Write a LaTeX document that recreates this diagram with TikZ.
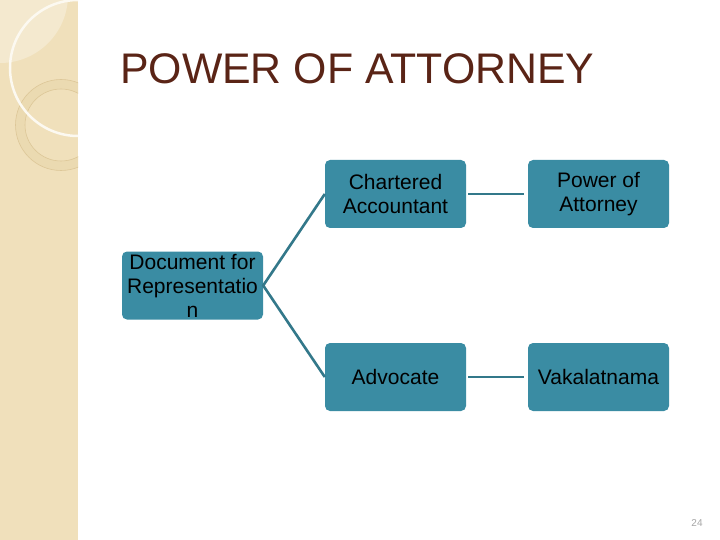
\documentclass[tikz,border=0pt]{standalone}
\usepackage{fontspec}
\setmainfont{Liberation Sans}
\definecolor{teal}{HTML}{3A8CA3}
\definecolor{tealline}{HTML}{33788A}
\definecolor{titlebrown}{HTML}{5A2416}
\definecolor{strip}{HTML}{F0E0BB}
\definecolor{stripring}{HTML}{D6BF8C}
\tikzset{
  box/.style={fill=teal, rounded corners=5pt, minimum width=141pt, minimum height=68pt,
    inner sep=1pt, align=center, font=\fontsize{21}{24}\selectfont},
  link/.style={draw=tealline, line width=2.6pt}
}
\begin{document}
\begin{tikzpicture}[x=1pt,y=-1pt]
\useasboundingbox (0,0) rectangle (720,540);
\fill[white] (0,0) rectangle (720,540);
% side strip
\begin{scope}
\clip (0,0) rectangle (78,540);
\fill[strip] (0,0) rectangle (78,540);
\fill[white,opacity=0.3] (0,-5) circle (68);
\fill[stripring!20!strip,even odd rule] (61,125) circle (45.5) (61,125) circle (36);
\draw[stripring!75!strip,line width=0.6pt] (61,125) circle (45.5);
\draw[stripring!75!strip,line width=0.6pt] (61,125) circle (36);
\draw[white!80!strip,line width=2.5pt] (78,68) circle (68);
\end{scope}
\node at (120,84) [anchor=base west, text=titlebrown, font=\fontsize{42.8}{48}\selectfont, inner sep=0pt] (title) {POWER OF ATTORNEY};
\node at (192.5,285.5) [box] (doc) {Document for\\Representatio\\n};
\node at (395.5,194) [box] (ca) {Chartered\\Accountant};
\node at (598.5,194) [box] (poa) {Power of\\Attorney};
\node at (395.5,377) [box] (adv) {Advocate};
\node at (598.5,377) [box] (vak) {Vakalatnama};
\draw[link] (ca.west) -- (doc.east) -- (adv.west);
\draw[link,shorten >=4pt,shorten <=2pt] (ca.east) -- (poa.west);
\draw[link,shorten >=4pt,shorten <=2pt] (adv.east) -- (vak.west);
\node at (697,523) [text=gray!70, font=\fontsize{10}{12}\selectfont] (page) {24};
\end{tikzpicture}
\end{document}
